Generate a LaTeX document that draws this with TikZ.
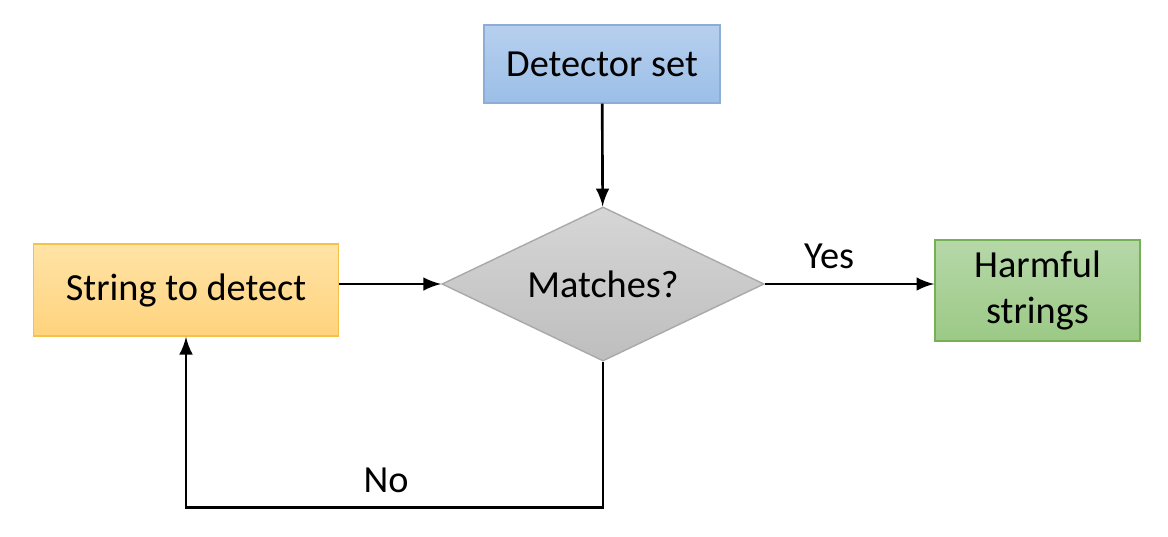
\documentclass[tikz,border=0pt]{standalone}
\usepackage{fontspec}
\setmainfont{Carlito}
\usetikzlibrary{shapes.geometric}
\definecolor{bluetop}{HTML}{B7CFEE}
\definecolor{bluebot}{HTML}{9BBFE7}
\definecolor{blueedge}{HTML}{8EADD6}
\definecolor{orangetop}{HTML}{FFE3A6}
\definecolor{orangebot}{HTML}{FFD37D}
\definecolor{orangeedge}{HTML}{F4C24A}
\definecolor{graytop}{HTML}{D6D6D6}
\definecolor{graybot}{HTML}{BEBEBE}
\definecolor{grayedge}{HTML}{A9A9A9}
\definecolor{greentop}{HTML}{B6D8A8}
\definecolor{greenbot}{HTML}{9CC986}
\definecolor{greenedge}{HTML}{77AF57}

\begin{document}
\begin{tikzpicture}[x=0.01cm,y=-0.01cm,
    txt/.style={font=\fontsize{10.9}{13}\selectfont},
    box/.style={txt,draw,align=center,inner sep=0pt},
    flow/.style={-latex,line width=0.75pt}]
\useasboundingbox (0,0) rectangle (1168,536);
\node[box,draw=blueedge,top color=bluetop,bottom color=bluebot,minimum width=2.36cm,minimum height=0.78cm] (det) at (602,64) {Detector set};
\node[box,shape=diamond,aspect=2.1,draw=grayedge,top color=graytop,bottom color=graybot,minimum width=3.22cm,minimum height=1.54cm] (match) at (603,284) {Matches?};
\node[box,draw=orangeedge,top color=orangetop,bottom color=orangebot,minimum width=3.05cm,minimum height=0.92cm] (str) at (186,290) {String to detect};
\node[box,draw=greenedge,top color=greentop,bottom color=greenbot,minimum width=2.05cm,minimum height=1.01cm] (harm) at (1037.5,290.5) {Harmful\\strings};
\draw[flow] (det) -- (match);
\draw[flow] (str.east |- match.west) -- (match.west);
\draw[flow] (match.east) -- node[txt,pos=0.38,above=0.5pt]{Yes} (harm.west |- match.east);
\draw[flow] (match.south) -- ++(0,146) -| node[txt,pos=0.26,above=0.5pt]{No} (str.south);
\end{tikzpicture}
\end{document}
